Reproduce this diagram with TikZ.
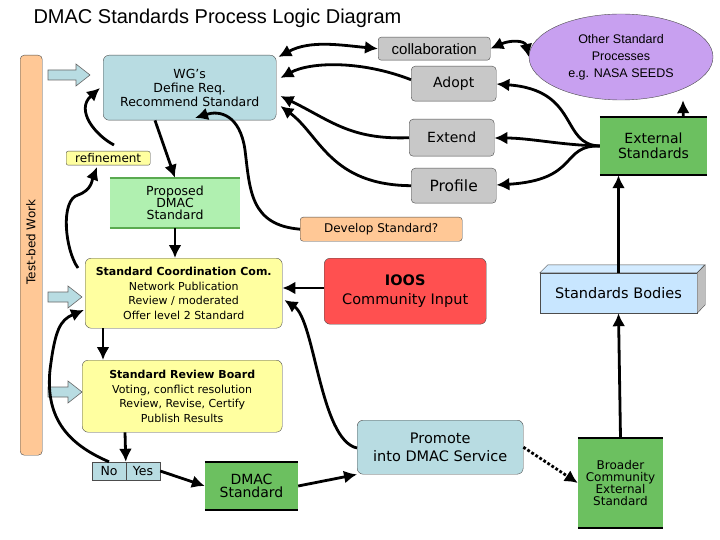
\documentclass[tikz,border=0pt]{standalone}
\usepackage{fontspec}
\setmainfont{DejaVu Sans}
\newfontfamily\arialf{Liberation Sans}
\usetikzlibrary{arrows.meta,shapes.geometric}
\definecolor{lblue}{RGB}{184,220,226}
\definecolor{gry}{RGB}{200,200,200}
\definecolor{org}{RGB}{255,200,150}
\definecolor{yel}{RGB}{255,255,160}
\definecolor{grn}{RGB}{108,192,96}
\definecolor{lgrn}{RGB}{176,240,176}
\definecolor{dgrn}{RGB}{90,170,80}
\definecolor{vio}{RGB}{200,160,240}
\definecolor{rd}{RGB}{255,80,80}
\definecolor{sky}{RGB}{200,230,255}
\tikzset{
 box/.style={draw=black!70,rounded corners=6pt,align=center,inner sep=0pt,anchor=north west,font=\fontsize{12.5}{14}\selectfont},
 con/.style={line width=2.8pt,-{Latex[length=13pt,width=13pt]}},
 dcon/.style={line width=2.8pt,{Latex[length=13pt,width=13pt]}-{Latex[length=13pt,width=13pt]}},
 barrow/.style={fill=lblue,draw=black!60,line width=0.6pt},
}
\newcommand{\rbox}[7]{\node[box,fill=#5,minimum width=#3pt,minimum height=#4pt,#6] (#1) at (#2) {#7};}
\begin{document}
\begin{tikzpicture}[x=1pt,y=-1pt]
\useasboundingbox (0,0) rectangle (720,540);
\node[anchor=west,font=\arialf\fontsize{20}{22}\selectfont] (title) at (30,18) {DMAC Standards Process Logic Diagram};
% test-bed bar
\node[draw=black!70,fill=org,rounded corners=4pt,minimum width=22pt,minimum height=400pt,anchor=north west,inner sep=0pt] (tb) at (20,55) {};
\node[rotate=90,font=\fontsize{12}{13}\selectfont] (tbt) at (31,242) {Test-bed Work};
% boxes
\rbox{wg}{103,55}{173}{65}{lblue}{}{WG’s\\Define Req.\\Recommend Standard}
\rbox{col}{378,37}{112}{23}{gry}{rounded corners=3pt,font=\arialf\fontsize{15}{16}\selectfont}{collaboration}
\rbox{adopt}{411,66}{85}{35}{gry}{rounded corners=4pt,font=\fontsize{14}{15}\selectfont}{Adopt}
\rbox{extend}{409,119}{85}{37}{gry}{rounded corners=4pt,font=\fontsize{14}{15}\selectfont}{Extend}
\rbox{profile}{411,168}{85}{35}{gry}{rounded corners=4pt,font=\fontsize{15.5}{16}\selectfont}{Profile}
\node[ellipse,draw=black!70,fill=vio,minimum width=184pt,minimum height=86pt,align=center,font=\arialf\fontsize{12.5}{17}\selectfont] (oth) at (621,57) {Other Standard\\Processes\\e.g. NASA SEEDS};
\node[fill=grn,minimum width=107pt,minimum height=58pt,inner sep=0pt,align=center,font=\fontsize{14}{15}\selectfont] (ext) at (653.5,146) {External\\Standards};
\draw[line width=2pt] (ext.north west)--(ext.north east) (ext.south west)--(ext.south east);
\rbox{ref}{66,151}{84}{14}{yel}{rounded corners=2pt,font=\fontsize{12}{12}\selectfont}{refinement}
\node[fill=lgrn,minimum width=130pt,minimum height=50pt,inner sep=0pt,align=center,font=\fontsize{12.5}{12}\selectfont] (prop) at (175,203) {Proposed\\DMAC\\Standard};
\draw[line width=2pt,dgrn] (prop.north west)--(prop.north east) (prop.south west)--(prop.south east);
\rbox{dev}{300,217}{162}{24}{org}{rounded corners=3pt,font=\fontsize{12}{13}\selectfont}{Develop Standard?}
\rbox{scc}{85,258}{197}{70}{yel}{font=\fontsize{11}{14.5}\selectfont}{\textbf{Standard Coordination Com.}\\Network Publication\\Review / moderated\\Offer level 2 Standard}
\rbox{ioos}{324,258}{162}{66}{rd}{font=\fontsize{14.5}{19}\selectfont}{\textbf{IOOS}\\Community Input}
% standards bodies 3D
\node[draw=black!70,fill=sky,minimum width=157pt,minimum height=40pt,inner sep=0pt,font=\fontsize{14.5}{15}\selectfont] (sb) at (618.5,293) {Standards Bodies};
\draw[draw=black!70,fill=sky!80] (sb.north west)--++(8,-8)--++(157,0)--(sb.north east)--cycle;
\draw[draw=black!70,fill=gray!50] (sb.north east)--++(8,-8)--++(0,40)--(sb.south east)--cycle;
\rbox{srb}{82,360}{200}{72}{yel}{font=\fontsize{11}{14.5}\selectfont}{\textbf{Standard Review Board}\\Voting, conflict resolution\\Review, Revise, Certify\\Publish Results}
\node[draw=black!70,fill=lblue,minimum width=34pt,minimum height=18pt,inner sep=0pt,font=\fontsize{12.5}{13}\selectfont] (no) at (109,471) {No};
\node[draw=black!70,fill=lblue,minimum width=34pt,minimum height=18pt,inner sep=0pt,font=\fontsize{12.5}{13}\selectfont] (yes) at (143,471) {Yes};
\node[fill=grn,minimum width=93pt,minimum height=48pt,inner sep=0pt,align=center,font=\fontsize{14}{13}\selectfont] (dmac) at (251.5,486) {DMAC\\Standard};
\draw[line width=1.5pt] (dmac.north west)--(dmac.north east) (dmac.south west)--(dmac.south east);
\rbox{prom}{357,420}{166}{54}{lblue}{font=\fontsize{14.5}{18}\selectfont}{Promote\\into DMAC Service}
\node[fill=grn,minimum width=85pt,minimum height=90pt,inner sep=0pt,align=center,font=\fontsize{12}{12}\selectfont] (brd) at (620.5,483) {Broader\\Community\\External\\Standard};
\draw[line width=1.5pt] (brd.north west)--(brd.north east) (brd.south west)--(brd.south east);
% blue block arrows
\foreach \y/\xe in {75/90,297/82,392/82}{
 \draw[barrow] (48,\y-5)--(\xe-14,\y-5)--(\xe-14,\y-11)--(\xe,\y)--(\xe-14,\y+11)--(\xe-14,\y+5)--(48,\y+5)--cycle;}
% connectors
\draw[con] (wg.south west)++(52,0) -- (prop.north);
\draw[con] (prop.south) -- (scc.north -| prop.south);
\draw[con] (scc.south west)++(18,0) -- (srb.north west -| 103,0);
\draw[con] (srb.south west)++(43,0) -- (yes.north west);
\draw[con] (yes.east) -- (dmac.west);
\draw[con] (dmac.east) -- (prom.south west);
\draw[line width=2.8pt,dotted,-{Latex[length=13pt,width=13pt]}] (prom.east) -- (brd.west);
\draw[con] (brd.north) -- (sb.south);
\draw[con] (sb.north) -- (ext.south -| sb.north);
\draw[con] (ext.north east)++(-24,0) -- (oth.south -| 683,0);
\draw[dcon] (wg.north east) ++(2,2) .. controls (310,40) and (340,45) .. (col.west);
\draw[dcon] (col.east) .. controls (510,40) and (525,40) .. (oth.west);
\draw[con] (adopt.west) ++(0,-4) .. controls (360,60) and (310,62) .. ([xshift=4pt]wg.east |- 0,78);
\draw[con] (extend.west) .. controls (350,140) and (330,120) .. ([xshift=4pt]wg.east |- 0,96);
\draw[con] (profile.west) .. controls (330,185) and (320,135) .. ([xshift=4pt]wg.east |- 0,106);
\draw[con] (ext.west) .. controls (560,145) and (580,90) .. (adopt.east |- 0,84);
\draw[con] (ext.west) .. controls (560,145) and (530,138) .. (extend.east |- 0,138);
\draw[con] (ext.west) .. controls (560,145) and (580,180) .. (profile.east |- 0,185);
\draw[con] (dev.west) .. controls (250,225) and (250,190) .. (245,150) .. controls (240,115) and (220,110) .. (195,118);
\draw[con] (ioos.west |- 0,288) -- (scc.east |- 0,288);
\draw[con] (prom.west |- 0,448) .. controls (320,440) and (315,320) .. ([xshift=2pt]scc.east |- 0,300);
\draw[con] (no.north) .. controls (70,445) and (45,420) .. (50,370) .. controls (55,330) and (60,320) .. ([xshift=-1pt]scc.west |- 0,310);
\draw[con] (78,268) .. controls (65,250) and (60,200) .. (78,195) .. controls (92,190) and (92,180) .. (97,167);
\draw[con] (114,145) .. controls (95,135) and (75,110) .. (100,88);
\end{tikzpicture}
\end{document}
